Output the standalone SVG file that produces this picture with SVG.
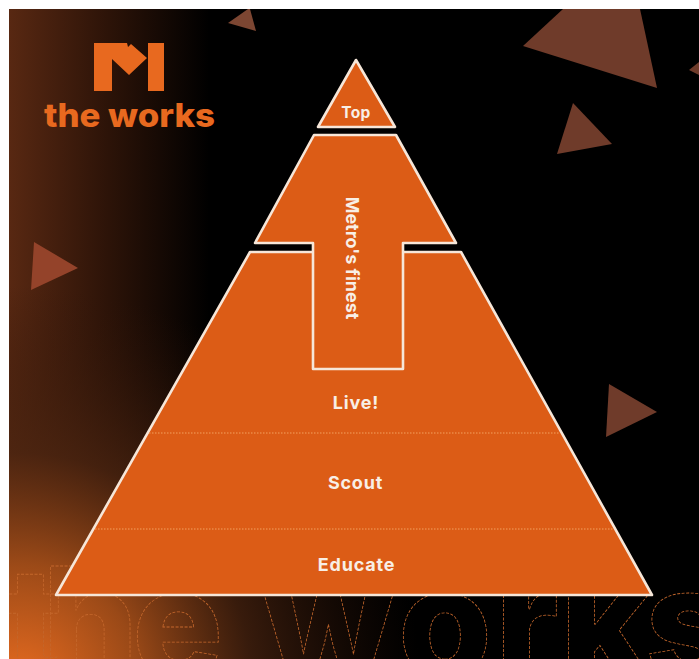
<svg xmlns="http://www.w3.org/2000/svg" width="699" height="659" viewBox="0 0 699 659">
<style>
.seg{fill:#dc5c16;stroke:#f6e6d8;stroke-width:2.6;stroke-linejoin:round}
.lbl{font-family:"Inter","Liberation Sans",sans-serif;font-weight:700;fill:#f8efe6;text-anchor:middle;font-size:18px;letter-spacing:.8px}
.deco{fill:#6f3b2a}
.div{stroke:#f3a05f;stroke-width:1;stroke-dasharray:1.5 1.5;fill:none}
.ghost{font-family:"Inter","Liberation Sans",sans-serif;font-weight:800;font-size:152px;fill:none;stroke:#c4672c;stroke-width:.8;stroke-dasharray:3 1.5}
</style>
<defs>
<linearGradient id="side" x1="0" y1="0" x2="1" y2="0"><stop offset="0" stop-color="#582812"/><stop offset=".5" stop-color="#2c1308"/><stop offset="1" stop-color="#000"/></linearGradient>
<radialGradient id="glow" gradientUnits="userSpaceOnUse" cx="20" cy="685" r="400"><stop offset="0" stop-color="#e96c20"/><stop offset=".3" stop-color="#a04c18" stop-opacity=".95"/><stop offset=".58" stop-color="#4a2410" stop-opacity=".75"/><stop offset="1" stop-color="#2c1308" stop-opacity="0"/></radialGradient>
<clipPath id="pic"><rect x="9" y="9" width="690" height="650"/></clipPath>
</defs>
<rect width="699" height="659" fill="#fff"/>
<g clip-path="url(#pic)">
<rect x="9" y="9" width="690" height="650" fill="#000"/>
<rect x="9" y="9" width="200" height="650" fill="url(#side)"/>
<rect x="9" y="285" width="410" height="374" fill="url(#glow)"/>
<text class="ghost" x="5 42 132 263 398 495 560 645" y="677">theworks</text>
<polygon class="deco" points="228,23 248,9 250,9 256,31" style="fill:#7c4632"/>
<polygon class="deco" points="523,46 563,9 640,9 657,88"/>
<polygon class="deco" points="573,103 612,144 557,154"/>
<polygon class="deco" points="689,70 699,62 699,75"/>
<polygon class="deco" points="34,242 78,268 31,290" style="fill:#94432a"/>
<polygon class="deco" points="609,384 657,412 606,437"/>
</g>
<g id="logo">
<polygon fill="#e8691f" points="94,43 127,43 128,47 131,44 147,58 129,75 112,59 112,91 94,91"/>
<rect x="148" y="43" width="16" height="48" fill="#e8691f"/>
<text x="44" y="127" font-family="Inter,'Liberation Sans',sans-serif" font-weight="800" font-size="33" fill="#e8691f" textLength="171" lengthAdjust="spacingAndGlyphs">the works</text>
</g>
<g id="node-base">
<polygon class="seg" points="250,252 461,252 652,595 56,595"/>
<text class="lbl" x="356" y="409">Live!</text>
<text class="lbl" x="355.5" y="489">Scout</text>
<text class="lbl" x="356.5" y="571">Educate</text>
</g>
<g id="connectors">
<line class="div" x1="149" y1="433" x2="559" y2="433"/>
<line class="div" x1="95" y1="529" x2="613" y2="529"/>
</g>
<g id="node-arrow">
<polygon class="seg" points="314,135 396,135 456,243 403,243 403,369 313,369 313,243 255,243"/>
<text class="lbl" transform="translate(345.5,258) rotate(90)" style="letter-spacing:0">Metro's finest</text>
</g>
<g id="node-top">
<polygon class="seg" points="356,60 395,127 318,127"/>
<text class="lbl" x="356" y="118" style="font-size:15.5px;letter-spacing:.3px">Top</text>
</g>
</svg>
